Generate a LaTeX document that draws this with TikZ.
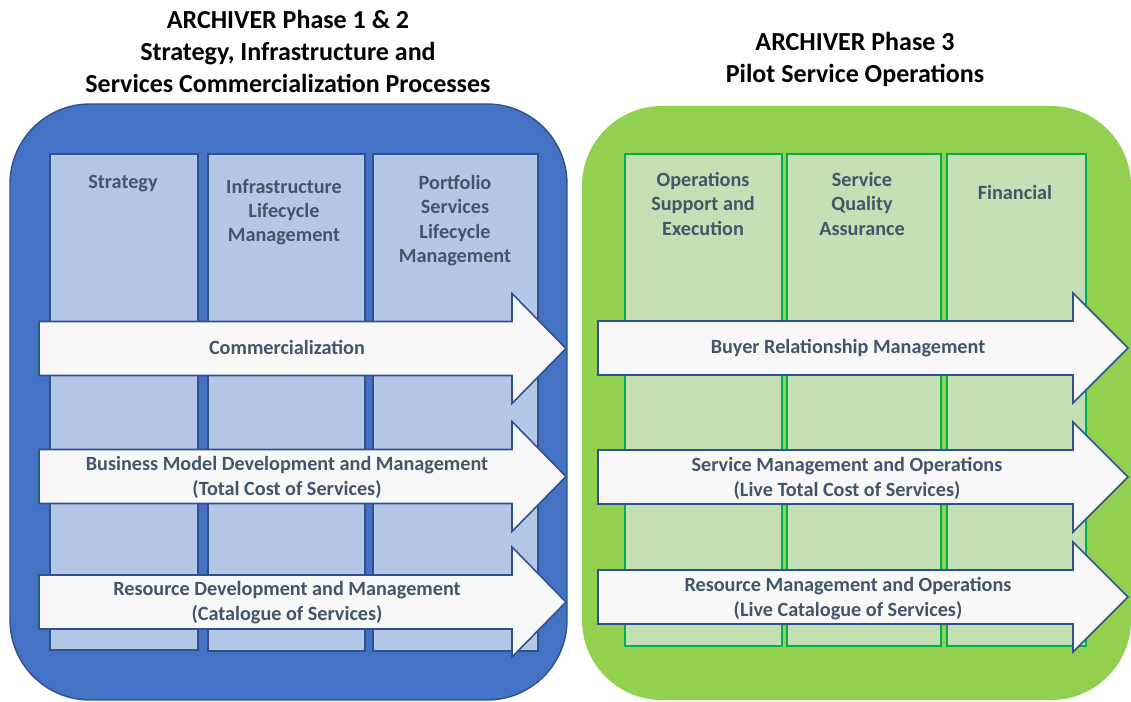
\documentclass[tikz,border=0pt]{standalone}
\usepackage{fontspec}
\setmainfont{Carlito}
\usetikzlibrary{positioning, calc}

\definecolor{bluebg}{HTML}{4472C4}
\definecolor{blueline}{HTML}{2F528F}
\definecolor{bluecolfill}{HTML}{B4C7E7}
\definecolor{greenbg}{HTML}{92D050}
\definecolor{greencolfill}{HTML}{C5E0B4}
\definecolor{greenline}{HTML}{00B050}
\definecolor{arrowfill}{HTML}{F8F8F8}
\definecolor{labeltext}{HTML}{44546A}

% big process arrow: left x / head base x / tip x / centre y
\newcommand\procarrow[4]{%
  \draw[procarrow] (#1,{#4-27}) -- (#2,{#4-27}) -- (#2,{#4-55}) -- (#3,#4)
    -- (#2,{#4+55}) -- (#2,{#4+27}) -- (#1,{#4+27}) -- cycle;}

\begin{document}
\begin{tikzpicture}[x=0.02cm, y=-0.02cm,% 1 unit = 1 pixel of the layout
  phasebox/.style = {rounded corners=1.6cm},
   bluecol/.style = {draw=blueline, fill=bluecolfill, line width=0.8pt},
  greencol/.style = {draw=greenline, fill=greencolfill, line width=0.8pt},
 procarrow/.style = {draw=blueline, fill=arrowfill, line width=0.9pt, line join=miter},
     title/.style = {font=\fontsize{14.8}{18.2}\selectfont\bfseries, align=center,
                     text=black, inner sep=0pt},
   coltext/.style = {font=\fontsize{11.5}{13.8}\selectfont\bfseries, align=center,
                     text=labeltext, inner sep=0pt, anchor=north},
   arrtext/.style = {font=\fontsize{11.5}{14.2}\selectfont\bfseries, align=center,
                     text=labeltext, inner sep=0pt}
                    ]
  \useasboundingbox (0,0) rectangle (1131,702);
  \clip (0,0) rectangle (1131,702);

  % phase titles
  \node[title] (t12) at (288,51)
       {ARCHIVER Phase 1 \& 2\\Strategy, Infrastructure and\\Services Commercialization Processes};
  \node[title] (t3)  at (855,59.5) {ARCHIVER Phase 3\\Pilot Service Operations};

  % phase 1 & 2 block
  \draw[phasebox, fill=bluebg, draw=blueline, line width=0.8pt] (10,104) rectangle (567,700);
  \draw[bluecol] (50,154)  rectangle (198,650);
  \draw[bluecol] (208,154) rectangle (365,651);
  \draw[bluecol] (373,154) rectangle (538,651);
  \node[coltext] (strat)  at (123,175) {Strategy};
  \node[coltext] (infra)  at (284,179) {Infrastructure\\Lifecycle\\Management};
  \node[coltext] (portf)  at (455,175) {Portfolio\\Services\\Lifecycle\\Management};

  % phase 3 block
  \fill[phasebox, greenbg] (582,106) rectangle (1131,700);
  \draw[greencol] (625,154) rectangle (782,646);
  \draw[greencol] (787,154) rectangle (941,646);
  \draw[greencol] (947,154) rectangle (1086,646);
  \node[coltext] (ops)  at (703,172) {Operations\\Support and\\Execution};
  \node[coltext] (qual) at (862,172) {Service\\Quality\\Assurance};
  \node[coltext] (fin)  at (1015,185) {Financial};

  % process arrows, phase 1 & 2
  \procarrow{39}{512}{566}{348.5}
  \procarrow{39}{512}{566}{476.5}
  \procarrow{39}{512}{566}{602}
  \node[arrtext] (comm) at (287,347) {Commercialization};
  \node[arrtext] (bmod) at (287,477) {Business Model Development and Management\\(Total Cost of Services)};
  \node[arrtext] (rdev) at (287,603) {Resource Development and Management\\(Catalogue of Services)};

  % process arrows, phase 3
  \procarrow{598}{1073}{1128}{348}
  \procarrow{598}{1073}{1128}{477}
  \procarrow{598}{1073}{1128}{597}
  \node[arrtext] (buyer) at (848,348) {Buyer Relationship Management};
  \node[arrtext] (smgt)  at (847,478) {Service Management and Operations\\(Live Total Cost of Services)};
  \node[arrtext] (rmgt)  at (848,599) {Resource Management and Operations\\(Live Catalogue of Services)};
\end{tikzpicture}
\end{document}
